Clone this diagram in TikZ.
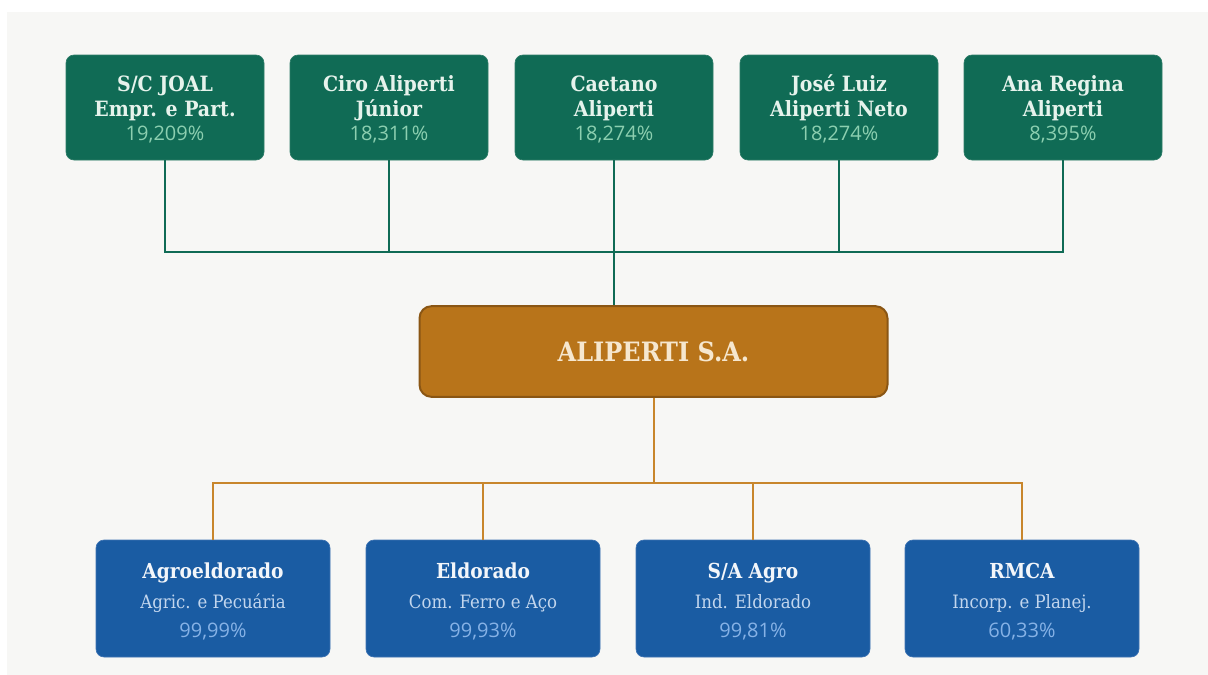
\documentclass[tikz,border=0pt]{standalone}
\usepackage{fontspec}
\setmainfont{DejaVu Serif Condensed}
\newfontfamily\pctfont{Open Sans}
\definecolor{bgc}{HTML}{F7F7F5}
\definecolor{gfill}{HTML}{106B55}
\definecolor{gdraw}{HTML}{2E7D68}
\definecolor{gname}{HTML}{E6F3EC}
\definecolor{gpct}{HTML}{8CCFB0}
\definecolor{ofill}{HTML}{B8741A}
\definecolor{odraw}{HTML}{8A5614}
\definecolor{otext}{HTML}{F6E7CF}
\definecolor{oline}{HTML}{C8862C}
\definecolor{bfill}{HTML}{1A5CA3}
\definecolor{bdraw}{HTML}{3F74B3}
\definecolor{bname}{HTML}{F3F6FA}
\definecolor{bsub}{HTML}{C2D6EE}
\definecolor{bpct}{HTML}{86B2E6}
\newcommand{\gp}[1]{{\pctfont\mdseries\fontsize{15}{18.5}\selectfont\color{gpct}#1}}
\newcommand{\bp}[1]{{\pctfont\fontsize{15}{22}\selectfont\color{bpct}#1}}
\newcommand{\bs}[1]{{\fontsize{13.8}{22}\selectfont\color{bsub}#1}}
\newcommand{\bt}[1]{{\fontsize{15.5}{22}\selectfont\bfseries\rule{0pt}{16.5pt}#1}}
\newcommand{\tl}[1]{\rule{0pt}{15pt}#1}
\begin{document}
\begin{tikzpicture}[x=0.75pt,y=-0.75pt,
  topbox/.style={rectangle,rounded corners=6pt,fill=gfill,draw=gdraw,line width=0.5pt,
    minimum width=148.5pt,minimum height=78.75pt,align=center,text=gname,inner sep=0pt,
    font=\fontsize{15.8}{18.5}\selectfont\bfseries},
  botbox/.style={rectangle,rounded corners=6pt,fill=bfill,draw=bdraw,line width=0.5pt,
    minimum width=175.5pt,minimum height=87.75pt,align=center,text=bname,inner sep=0pt,
    font=\fontsize{14}{22}\selectfont},
  alibox/.style={rectangle,rounded corners=9pt,fill=ofill,draw=odraw,line width=1.5pt,
    minimum width=351pt,minimum height=68pt,text=otext,inner sep=0pt,
    font=\fontsize{20}{24}\selectfont\bfseries},
  gline/.style={draw=gfill,line width=1.5pt},
  oline/.style={draw=oline,line width=1.5pt}]
\useasboundingbox (0,0) rectangle (1208,675);
\fill[bgc] (7,12) rectangle (1208,675);
% top shareholders
\node[topbox] (s1) at (165,107.5) {\tl{S/C JOAL}\\Empr. e Part.\\\gp{19,209\%}};
\node[topbox] (s2) at (389,107.5) {\tl{Ciro Aliperti}\\Júnior\\\gp{18,311\%}};
\node[topbox] (s3) at (614,107.5) {\tl{Caetano}\\Aliperti\\\gp{18,274\%}};
\node[topbox] (s4) at (839,107.5) {\tl{José Luiz}\\Aliperti Neto\\\gp{18,274\%}};
\node[topbox] (s5) at (1063,107.5) {\tl{Ana Regina}\\Aliperti\\\gp{8,395\%}};
% central company
\node[alibox] (ali) at (653.5,351.5) {ALIPERTI S.A.};
% subsidiaries
\node[botbox] (c1) at (213,598.5) {\bt{Agroeldorado}\\\bs{Agric. e Pecuária}\\\bp{99,99\%}};
\node[botbox] (c2) at (483,598.5) {\bt{Eldorado}\\\bs{Com. Ferro e Aço}\\\bp{99,93\%}};
\node[botbox] (c3) at (753,598.5) {\bt{S/A Agro}\\\bs{Ind. Eldorado}\\\bp{99,81\%}};
\node[botbox] (c4) at (1022,598.5) {\bt{RMCA}\\\bs{Incorp. e Planej.}\\\bp{60,33\%}};
% green connectors
\coordinate (gj) at (614,252);
\draw[gline] (s1.south) |- (gj) -| (s5.south);
\draw[gline] (s2.south) -- (s2.south |- gj);
\draw[gline] (s4.south) -- (s4.south |- gj);
\draw[gline] (s3.south) -- (s3.south |- ali.north);
% orange connectors
\coordinate (oj) at (653.5,483);
\draw[oline] (ali.south) -- (oj);
\draw[oline] (c1.north) |- (oj) -| (c4.north);
\draw[oline] (c2.north) -- (c2.north |- oj);
\draw[oline] (c3.north) -- (c3.north |- oj);
\end{tikzpicture}
\end{document}
